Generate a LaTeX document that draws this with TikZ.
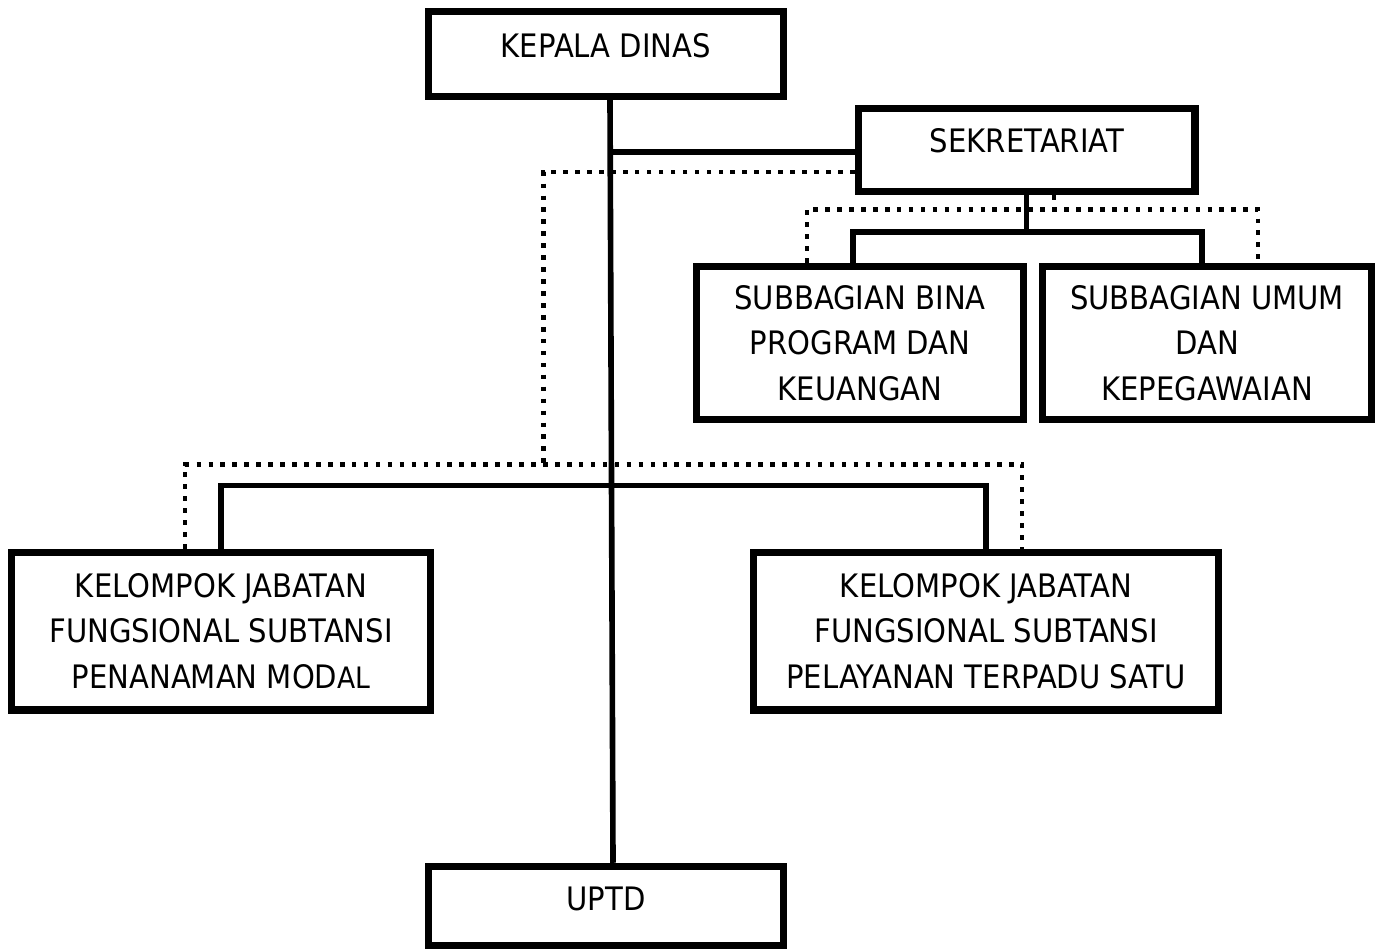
\documentclass[tikz,border=0pt]{standalone}
\usepackage{fontspec}
\setmainfont{DejaVu Sans}[FakeStretch=0.9]
\usepackage{tikz}

\begin{document}
\begin{tikzpicture}[x=0.02cm, y=-0.02cm,
  every node/.style={font=\fontsize{18.4}{26}\selectfont, align=center},
  box/.style={draw, line width=4pt, inner sep=0pt},
  conn/.style={line width=3.2pt},
  dots/.style={line width=2.6pt, dash pattern=on 2.6pt off 4.2pt}]
\useasboundingbox (0,0) rectangle (1381,949);
\node[box, minimum width=7.10cm, minimum height=1.70cm] (kepala) at (606,54) {};
\node (kepalatext) at (606,45.5) {KEPALA DINAS};
\node[box, minimum width=6.74cm, minimum height=1.66cm] (sek) at (1026.5,150) {};
\node (sektext) at (1027,141) {SEKRETARIAT};
\node[box, minimum width=6.54cm, minimum height=3.07cm] (bina) at (860,343) {SUBBAGIAN BINA\\PROGRAM DAN\\KEUANGAN};
\node[box, minimum width=6.57cm, minimum height=3.07cm] (umum) at (1207,343) {SUBBAGIAN UMUM\\DAN\\KEPEGAWAIAN};
\node[box, minimum width=8.37cm, minimum height=3.16cm] (kelkiri) at (221,631) {KELOMPOK JABATAN\\FUNGSIONAL SUBTANSI\\PENANAMAN MOD{\fontsize{16.8}{26}\selectfont AL}};
\node[box, minimum width=9.30cm, minimum height=3.16cm] (kelkanan) at (986,631) {KELOMPOK JABATAN\\FUNGSIONAL SUBTANSI\\PELAYANAN TERPADU SATU};
\node[box, minimum width=7.10cm, minimum height=1.59cm] (uptd) at (606,906) {};
\node (uptdtext) at (606,898.5) {UPTD};

\coordinate (spine) at ([xshift=0.08cm]kepala.south);
\draw[conn] (spine) -- ([xshift=0.14cm]uptd.north);
\draw[conn] ([yshift=-0.04cm]sek.west) -- ([yshift=-0.04cm]sek.west -| spine);
\draw[conn] (sek.south) -- ++(0,37) coordinate (sekbus);
\draw[conn] ([xshift=-0.14cm]bina.north) |- (sekbus) -| ([xshift=-0.1cm]umum.north);
\draw[conn] (kelkiri.north) -- ++(0,-63) -| (kelkanan.north);

\draw[dots] ([yshift=-0.44cm]sek.west) -| ++(-311,296);
\draw[dots] ([xshift=-0.72cm]kelkiri.north) -- ++(0,-84) -| ([xshift=0.72cm]kelkanan.north);
\draw[dots] ([xshift=0.55cm]sek.south) -- ++(0,21.5);
\draw[dots] ([xshift=-1.06cm]bina.north) -- ++(0,-53.5) -| ([xshift=1.02cm]umum.north);
\end{tikzpicture}
\end{document}
